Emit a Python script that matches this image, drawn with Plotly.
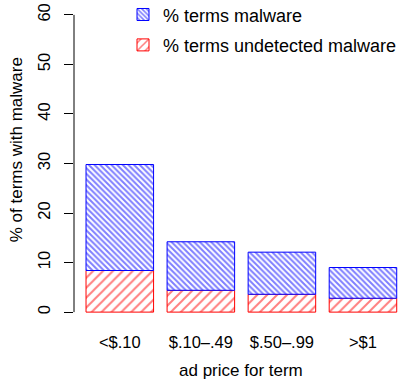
import plotly.graph_objects as go

# Share of search terms, by ad price, whose results led to malware
price_bins = ["<$.10", "$.10\u2013.49", "$.50\u2013.99", ">$1"]
pct_malware = [29.8, 14.2, 12.1, 9.0]
pct_undetected = [8.4, 4.4, 3.6, 2.8]
y_ticks = [0, 10, 20, 30, 40, 50, 60]

# bar centres as in an R barplot (width 1, space 0.2)
xpos = [0.7 + 1.2 * i for i in range(len(price_bins))]

FONT = "Liberation Sans, Arial, sans-serif"

fig = go.Figure()

fig.add_trace(go.Bar(
    x=xpos, y=pct_undetected, width=1.0,
    name="% terms undetected malware",
    marker=dict(color="white",
                line=dict(color="#ff0000", width=1),
                pattern=dict(shape="/", fgcolor="#ff0000", bgcolor="white",
                             size=7, solidity=0.28)),
    legendrank=2, legendgroup="u",
))

fig.add_trace(go.Bar(
    x=xpos,
    y=[m - u for m, u in zip(pct_malware, pct_undetected)],
    base=pct_undetected, width=1.0,
    name="% terms malware",
    marker=dict(color="white",
                line=dict(color="#0000ff", width=1),
                pattern=dict(shape="\\", fgcolor="#0000ff", bgcolor="white",
                             size=4, solidity=0.5)),
    legendrank=1, legendgroup="m",
))

# y axis line spans only the labelled range
fig.add_shape(type="line", xref="paper", yref="y", x0=0, x1=0,
              y0=y_ticks[0], y1=y_ticks[-1], line=dict(color="black", width=1))

fig.add_annotation(text="ad price for term", xref="x", yref="paper",
                   x=2.5, y=-0.146, yanchor="middle", showarrow=False,
                   font=dict(family=FONT, size=17, color="black"))
fig.add_annotation(text="% of terms with malware", xref="paper", yref="y",
                   x=-0.175, y=32.8, textangle=-90, xanchor="center",
                   showarrow=False,
                   font=dict(family=FONT, size=17, color="black"))

fig.update_layout(
    width=402, height=381,
    margin=dict(l=74, r=0, t=3, b=57, autoexpand=False),
    paper_bgcolor="white", plot_bgcolor="white",
    barmode="overlay",
    font=dict(family=FONT, size=16, color="black"),
    showlegend=True,
    legend=dict(x=(123 - 74) / 328, y=1.0209, xanchor="left", yanchor="top",
                bgcolor="rgba(0,0,0,0)", tracegroupgap=4,
                font=dict(family=FONT, size=18, color="black")),
    xaxis=dict(range=[0.022, 4.878], tickvals=xpos, ticktext=price_bins,
               showline=False, showgrid=False, zeroline=False,
               ticks="", ticklabelstandoff=6,
               tickfont=dict(family=FONT, size=16.5)),
    yaxis=dict(range=[-2.4, 62.4], tickvals=y_ticks,
               showline=False, showgrid=False, zeroline=False,
               ticks="outside", ticklen=9, tickcolor="black", tickwidth=1,
               tickangle=-90, ticklabelstandoff=7,
               tickfont=dict(family=FONT, size=16.5)),
)

fig.write_html("out.html")
